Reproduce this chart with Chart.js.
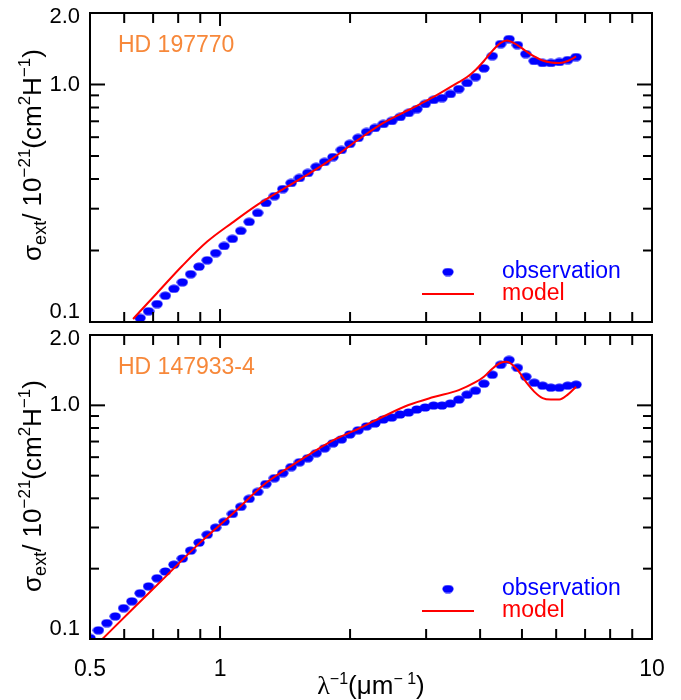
<!DOCTYPE html>
<html>
<head>
<meta charset="utf-8">
<script src="https://cdn.jsdelivr.net/npm/chart.js@4.4.1/dist/chart.umd.min.js"></script>
<style>
  html, body { margin: 0; padding: 0; background: #fff; }
  canvas { position: absolute; left: 0; }
</style>
</head>
<body>
<canvas id="topPanel" width="681" height="330" style="top:0px"></canvas>
<canvas id="bottomPanel" width="681" height="370" style="top:330px"></canvas>
<script>
// inverse wavelength (um^-1) of the observed points
const waveNumbers = [0.500, 0.523, 0.547, 0.572, 0.598, 0.625, 0.653, 0.683, 0.715, 0.747,
  0.782, 0.818, 0.855, 0.894, 0.934, 0.977, 1.022, 1.068, 1.117, 1.168,
  1.222, 1.277, 1.336, 1.397, 1.461, 1.527, 1.597, 1.670, 1.746, 1.826,
  1.910, 1.997, 2.088, 2.184, 2.284, 2.388, 2.497, 2.611, 2.731, 2.855,
  2.985, 3.122, 3.265, 3.414, 3.570, 3.732, 3.903, 4.082, 4.268, 4.463,
  4.667, 4.880, 5.103, 5.337, 5.581, 5.834, 6.102, 6.381, 6.672];

// HD 197770 (points below 0.1 are off the plot)
const obsHD197770 = [null, null, null, null, null, null, 0.104, 0.111, 0.119, 0.129,
  0.138, 0.147, 0.159, 0.171, 0.182, 0.195, 0.209, 0.224, 0.242, 0.264,
  0.288, 0.317, 0.339, 0.363, 0.385, 0.404, 0.424, 0.450, 0.472, 0.495,
  0.530, 0.562, 0.596, 0.631, 0.656, 0.682, 0.702, 0.730, 0.759, 0.788,
  0.828, 0.861, 0.877, 0.912, 0.957, 1.015, 1.075, 1.170, 1.318, 1.480,
  1.554, 1.466, 1.344, 1.256, 1.232, 1.232, 1.244, 1.268, 1.305];

const modelXHD197770 = [0.629, 0.715, 0.818, 0.934, 1.068, 1.222, 1.397, 1.597, 1.826, 2.088,
  2.388, 2.731, 3.122, 3.570, 3.732, 3.903, 4.082, 4.268, 4.463, 4.610,
  4.880, 5.103, 5.337, 5.581, 5.834, 6.102, 6.381, 6.672];
const modelHD197770 = [0.103, 0.1325, 0.1725, 0.218, 0.262, 0.312, 0.362, 0.418, 0.490, 0.585,
  0.689, 0.781, 0.886, 1.024, 1.075, 1.151, 1.256, 1.384, 1.496, 1.532,
  1.466, 1.384, 1.312, 1.262, 1.238, 1.232, 1.256, 1.312];

// HD 147933-4
const obsHD147933 = [0.101, 0.109, 0.117, 0.125, 0.1355, 0.145, 0.157, 0.168, 0.182, 0.1945,
  0.208, 0.221, 0.239, 0.2585, 0.2795, 0.2995, 0.3175, 0.343, 0.368, 0.398,
  0.426, 0.4605, 0.488, 0.513, 0.544, 0.571, 0.594, 0.624, 0.655, 0.688,
  0.715, 0.751, 0.782, 0.813, 0.837, 0.870, 0.887, 0.914, 0.932, 0.960,
  0.979, 0.998, 0.998, 1.018, 1.0585, 1.111, 1.156, 1.238, 1.352, 1.491,
  1.565, 1.448, 1.326, 1.250, 1.214, 1.190, 1.190, 1.214, 1.226];

const modelXHD147933 = [0.523, 0.625, 0.747, 0.894, 1.068, 1.277, 1.527, 1.826, 2.088, 2.388,
  2.731, 3.122, 3.570, 3.903, 4.082, 4.268, 4.463, 4.610, 4.880, 5.103,
  5.337, 5.581, 5.834, 6.102, 6.381, 6.672];
const modelHD147933 = [0.0962, 0.1334, 0.1845, 0.256, 0.343, 0.465, 0.5796, 0.7084, 0.793, 0.896,
  1.003, 1.085, 1.162, 1.256, 1.326, 1.434, 1.521, 1.536, 1.420, 1.262,
  1.145, 1.074, 1.059, 1.059, 1.111, 1.202];

// axes
const xLabelValues = [0.5, 1, 10];
const xTickValues = [0.6, 0.7, 0.8, 0.9, 1, 2, 3, 4, 5, 6, 7, 8, 9];
const yLabelValues = [0.1, 1, 2];
const yTickValues = [0.2, 0.3, 0.4, 0.5, 0.6, 0.7, 0.8, 0.9, 1];

const FONT = '"Liberation Sans", Arial, sans-serif';
const BLUE = '#0000ff';
const RED = '#ff0000';
const ORANGE = '#f7883a';

// elliptical marker
const dot = document.createElement('canvas');
dot.width = 12; dot.height = 9;
(() => {
  const c = dot.getContext('2d');
  c.fillStyle = BLUE;
  c.beginPath();
  c.ellipse(6, 4.5, 5.6, 4.1, 0, 0, Math.PI * 2);
  c.fill();
})();

function drawRich(ctx, parts, cx, cy, rotate) {
  ctx.save();
  ctx.translate(cx, cy);
  if (rotate) ctx.rotate(-Math.PI / 2);
  ctx.textAlign = 'left';
  ctx.textBaseline = 'alphabetic';
  let total = 0;
  parts.forEach(p => { ctx.font = p.font; p.w = ctx.measureText(p.text).width; total += p.w + (p.gap || 0); });
  let pos = -total / 2;
  parts.forEach(p => {
    ctx.font = p.font;
    ctx.fillText(p.text, pos, p.dy || 0);
    pos += p.w + (p.gap || 0);
  });
  ctx.restore();
}

const panelDecor = {
  id: 'panelDecor',
  afterDraw(chart, args, opts) {
    const { ctx, chartArea: a, scales: { x, y } } = chart;
    ctx.save();
    ctx.strokeStyle = '#000';
    ctx.lineWidth = 2;
    ctx.strokeRect(a.left, a.top, a.right - a.left, a.bottom - a.top);

    const seg = (x1, y1, x2, y2) => { ctx.beginPath(); ctx.moveTo(x1, y1); ctx.lineTo(x2, y2); ctx.stroke(); };
    xTickValues.forEach(v => {
      const px = x.getPixelForValue(v);
      const len = v === 1 ? 13 : 10;
      seg(px, a.top, px, a.top + len);
      seg(px, a.bottom, px, a.bottom - len);
    });
    yTickValues.forEach(v => {
      const py = y.getPixelForValue(v);
      const len = v === 1 ? 15 : 9;
      seg(a.left, py, a.left + len, py);
      seg(a.right, py, a.right - len, py);
    });

    // y tick labels, kept inside the frame height
    ctx.fillStyle = '#000';
    ctx.font = '22px ' + FONT;
    ctx.textAlign = 'right';
    ctx.textBaseline = 'middle';
    yLabelValues.forEach(v => {
      let py = y.getPixelForValue(v);
      py = Math.min(Math.max(py, a.top + 4), a.bottom - 10);
      ctx.fillText(v.toFixed(1), a.left - 10, py);
    });

    // star name
    ctx.fillStyle = ORANGE;
    ctx.font = '23px ' + FONT;
    ctx.textAlign = 'left';
    ctx.textBaseline = 'alphabetic';
    ctx.fillText(opts.name, a.left + 28, a.top + 39);

    // legend
    const ly1 = a.bottom - 50, ly2 = a.bottom - 28;
    ctx.drawImage(dot, a.right - 204 - 6, ly1 - 4.5);
    ctx.strokeStyle = RED;
    ctx.lineWidth = 2;
    seg(a.right - 230, ly2, a.right - 178, ly2);
    ctx.font = '23px ' + FONT;
    ctx.textBaseline = 'middle';
    ctx.fillStyle = BLUE;
    ctx.fillText('observation', a.right - 150, ly1);
    ctx.fillStyle = RED;
    ctx.fillText('model', a.right - 150, ly2);

    // y title
    ctx.fillStyle = '#000';
    const big = '26px ' + FONT, small = '17px ' + FONT;
    drawRich(ctx, [
      { text: 'σ', font: big },
      { text: 'ext', font: '18px ' + FONT, dy: 5 },
      { text: '/ 10', font: big },
      { text: '−21', font: small, dy: -11 },
      { text: '(cm', font: big },
      { text: '2', font: small, dy: -11 },
      { text: 'H', font: big },
      { text: '−1', font: small, dy: -11 },
      { text: ')', font: big }
    ], 41, a.top + opts.titleOffset, true);

    if (opts.xTitle) {
      const xb = '26px ' + FONT, xs = '16px ' + FONT;
      drawRich(ctx, [
        { text: 'λ', font: '26px "Liberation Serif", serif' },
        { text: '−1', font: xs, dy: -10 },
        { text: '(μm', font: xb },
        { text: '− 1', font: xs, dy: -10 },
        { text: ')', font: xb }
      ], (a.left + a.right) / 2, chart.height - 6, false);
    }
    ctx.restore();
  }
};

function makePanel(id, obs, modelX, model, cfg) {
  const obsData = waveNumbers.map((w, i) => ({ x: w, y: obs[i] })).filter(p => p.y !== null);
  const modelData = modelX.map((w, i) => ({ x: w, y: model[i] }));
  return new Chart(document.getElementById(id), {
    type: 'scatter',
    data: {
      datasets: [
        { label: 'model', type: 'line', data: modelData, borderColor: RED, borderWidth: 2,
          pointRadius: 0, cubicInterpolationMode: 'monotone', fill: false },
        { label: 'observation', data: obsData, pointStyle: dot, pointRadius: 5,
          backgroundColor: BLUE, borderWidth: 0 }
      ]
    },
    options: {
      responsive: false,
      animation: false,
      events: [],
      layout: { padding: { left: 0, right: 29, top: cfg.padTop, bottom: 0 } },
      scales: {
        x: {
          type: 'logarithmic', min: 0.5, max: 10,
          grid: { display: false }, border: { display: false },
          afterBuildTicks: s => { s.ticks = xLabelValues.map(v => ({ value: v })); },
          afterFit: s => { s.height = cfg.xHeight; },
          ticks: { display: cfg.xLabels, color: '#000', padding: 9, maxRotation: 0,
            font: { family: FONT, size: 23 }, callback: v => String(v) }
        },
        y: {
          type: 'logarithmic', min: 0.1, max: 2.0,
          grid: { display: false }, border: { display: false },
          afterFit: s => { s.width = 90; },
          ticks: { display: false }
        }
      },
      plugins: {
        legend: { display: false },
        tooltip: { enabled: false },
        panelDecor: { name: cfg.name, titleOffset: cfg.titleOffset, xTitle: cfg.xLabels }
      }
    },
    plugins: [panelDecor]
  });
}

makePanel('topPanel', obsHD197770, modelXHD197770, modelHD197770,
  { name: 'HD 197770', padTop: 13, xHeight: 8, xLabels: false, titleOffset: 142 });
makePanel('bottomPanel', obsHD147933, modelXHD147933, modelHD147933,
  { name: 'HD 147933-4', padTop: 3, xHeight: 61, xLabels: true, titleOffset: 151 });
</script>
</body>
</html>
